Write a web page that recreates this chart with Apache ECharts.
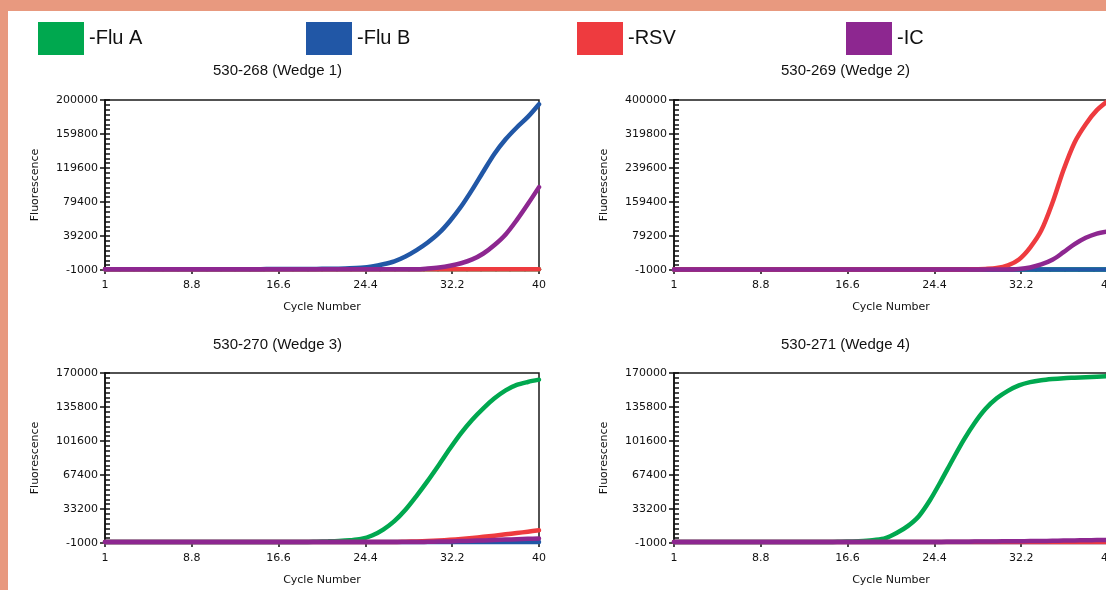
<!DOCTYPE html>
<html>
<head>
<meta charset="utf-8">
<script src="https://cdn.jsdelivr.net/npm/echarts@6.0.0/dist/echarts.min.js"></script>
<style>
html,body{margin:0;padding:0;width:1106px;height:590px;overflow:hidden;}
#bg{position:absolute;left:0;top:0;width:1106px;height:590px;background:#E8997F;}
#paper{position:absolute;left:8px;top:11px;width:1098px;height:579px;background:#ffffff;}
#c{position:absolute;left:0;top:0;width:1106px;height:590px;}
</style>
</head>
<body>
<div id="bg"></div>
<div id="paper"></div>
<div id="c"></div>
<script>
// ---------- data ----------
const seriesNames = ['Flu A', 'Flu B', 'RSV', 'IC'];
const cycles = [1,2,3,4,5,6,7,8,9,10,11,12,13,14,15,16,17,18,19,20,21,22,23,24,25,26,27,28,29,30,31,32,33,34,35,36,37,38,39,40];
const xTickLabels = [1, 8.8, 16.6, 24.4, 32.2, 40];
const yTicksW1 = [-1000, 39200, 79400, 119600, 159800, 200000];
const yTicksW2 = [-1000, 79200, 159400, 239600, 319800, 400000];
const yTicksW3 = [-1000, 33200, 67400, 101600, 135800, 170000];
const yTicksW4 = [-1000, 33200, 67400, 101600, 135800, 170000];
const panelTitles = ['530-268 (Wedge 1)', '530-269 (Wedge 2)', '530-270 (Wedge 3)', '530-271 (Wedge 4)'];

// Wedge 1
const w1FluA = [0,0,0,0,0,0,0,0,0,0,0,0,0,0,0,0,0,0,0,0,0,0,0,0,0,0,0,0,0,0,0,0,0,0,0,0,0,0,0,0];
const w1FluB = [0,0,0,0,0,0,0,0,0,0,0,0,0,0,0,100,150,200,250,300,400,600,1000,1800,3300,5800,9300,15000,22500,31500,42500,57000,74000,94000,115500,136500,153500,167500,180000,195000];
const w1RSV  = [0,0,0,0,0,0,0,0,0,0,0,0,0,0,0,0,0,0,0,0,0,0,0,0,0,0,0,0,0,0,0,0,0,0,0,0,0,0,0,0];
const w1IC   = [0,0,0,0,0,0,0,0,0,0,0,0,0,0,0,0,0,0,0,0,0,0,0,0,0,0,0,0,0,800,2000,4000,7000,11500,18500,28500,41000,58000,77000,97000];
// Wedge 2
const w2FluA = [0,0,0,0,0,0,0,0,0,0,0,0,0,0,0,0,0,0,0,0,0,0,0,0,0,0,0,0,0,0,0,0,0,0,0,0,0,0,0,0];
const w2FluB = [0,0,0,0,0,0,0,0,0,0,0,0,0,0,0,0,0,0,0,0,0,0,0,0,0,0,0,0,0,0,0,0,0,0,0,0,0,0,0,0];
const w2RSV  = [0,0,0,0,0,0,0,0,0,0,0,0,0,0,0,0,0,0,0,0,0,0,0,0,0,0,0,800,1500,3500,10000,24000,52000,92000,157000,235000,300000,343000,376000,398000];
const w2IC   = [0,0,0,0,0,0,0,0,0,0,0,0,0,0,0,0,0,0,0,0,0,0,0,0,0,0,0,0,0,0,0,1500,5000,12000,23000,41000,60000,75000,85000,90000];
// Wedge 3
const w3FluA = [0,0,0,0,0,0,0,0,0,0,0,0,0,0,0,0,0,0,0,300,600,1000,1700,3000,6500,12500,21000,32500,46500,61500,77500,94000,109500,123000,134500,144500,152500,158000,161000,163300];
const w3FluB = [0,0,0,0,0,0,0,0,0,0,0,0,0,0,0,0,0,0,0,0,0,0,0,0,0,0,0,0,0,0,0,0,0,0,0,0,0,0,0,0];
const w3RSV  = [0,0,0,0,0,0,0,0,0,0,0,0,0,0,0,0,0,0,0,0,0,0,0,0,0,0,0,300,600,1000,1500,2200,3000,4000,5200,6400,7700,9000,10400,11800];
const w3IC   = [0,0,0,0,0,0,0,0,0,0,0,0,0,0,0,0,0,0,0,0,0,0,0,0,0,0,0,0,0,200,400,600,900,1200,1600,2000,2400,2800,3200,3600];
// Wedge 4
const w4FluA = [0,0,0,0,0,0,0,0,0,0,0,0,0,0,0,300,600,1100,2000,3800,9000,16000,26000,42000,61500,82000,102000,119500,134000,144500,152000,157500,160800,162800,164000,164800,165300,165800,166300,166800];
const w4FluB = [0,0,0,0,0,0,0,0,0,0,0,0,0,0,0,0,0,0,0,0,0,0,0,0,0,0,0,0,0,0,0,0,0,0,0,0,0,0,0,0];
const w4RSV  = [0,0,0,0,0,0,0,0,0,0,0,0,0,0,0,0,0,0,0,0,0,0,0,0,0,0,0,0,0,0,0,0,0,0,0,0,0,0,0,0];
const w4IC   = [0,0,0,0,0,0,0,0,0,0,0,0,0,0,0,0,0,0,0,0,0,0,0,0,100,200,300,400,500,600,700,800,900,1000,1200,1400,1600,1800,1900,2000];

// ---------- styles / layout ----------
const seriesColors = ['#00A84F', '#2157A6', '#EE3B3F', '#8D2790'];
const legendLefts = [38, 306, 577, 846];
const panels = [
  { title: panelTitles[0], tx: 213, ty: 63,  gx: 105, gy: 100, yTicks: yTicksW1, data: [w1FluA, w1FluB, w1RSV, w1IC] },
  { title: panelTitles[1], tx: 781, ty: 63,  gx: 674, gy: 100, yTicks: yTicksW2, data: [w2FluA, w2FluB, w2RSV, w2IC] },
  { title: panelTitles[2], tx: 213, ty: 337, gx: 105, gy: 373, yTicks: yTicksW3, data: [w3FluA, w3FluB, w3RSV, w3IC] },
  { title: panelTitles[3], tx: 781, ty: 337, gx: 674, gy: 373, yTicks: yTicksW4, data: [w4FluA, w4FluB, w4RSV, w4IC] }
];

function subdivide(ticks, n) {
  const out = [];
  for (let i = 0; i < ticks.length - 1; i++) {
    for (let k = 0; k < n; k++) out.push(ticks[i] + (ticks[i + 1] - ticks[i]) * k / n);
  }
  out.push(ticks[ticks.length - 1]);
  return out;
}

const axisColor = '#111';
const tickFont = { fontFamily: 'DejaVu Sans', fontSize: 11, color: '#111' };
const xMinor = subdivide(xTickLabels, 6);

const xAxes = [], yAxes = [], series = [];
panels.forEach((p, i) => {
  xAxes.push({
    type: 'value', gridIndex: i, position: 'bottom', min: 1, max: 40,
    axisLine: { show: true, onZero: false, lineStyle: { color: axisColor, width: 1.5 } },
    axisTick: { show: true, customValues: xTickLabels, length: 4, lineStyle: { color: axisColor, width: 1.5 } },
    axisLabel: Object.assign({ customValues: xTickLabels, formatter: v => String(v), margin: 10 }, tickFont),
    splitLine: { show: false },
    name: 'Cycle Number', nameLocation: 'middle', nameGap: 32,
    nameTextStyle: { fontFamily: 'DejaVu Sans', fontSize: 11, color: '#111' }
  });
  xAxes.push({
    type: 'value', gridIndex: i, position: 'bottom', min: 1, max: 40,
    axisLine: { show: false },
    axisTick: { show: true, customValues: xMinor, length: 2, lineStyle: { color: axisColor, width: 1.5 } },
    axisLabel: { show: false },
    splitLine: { show: false }
  });
  const yMin = p.yTicks[0], yMax = p.yTicks[p.yTicks.length - 1];
  yAxes.push({
    type: 'value', gridIndex: i, position: 'left', min: yMin, max: yMax,
    axisLine: { show: true, onZero: false, lineStyle: { color: axisColor, width: 1.5 } },
    axisTick: { show: true, customValues: p.yTicks, length: 5, lineStyle: { color: axisColor, width: 1.5 } },
    axisLabel: Object.assign({ customValues: p.yTicks, formatter: v => String(v), margin: 7 }, tickFont),
    splitLine: { show: false },
    name: 'Fluorescence', nameLocation: 'middle', nameGap: 64, nameRotate: 90,
    nameTextStyle: { fontFamily: 'DejaVu Sans', fontSize: 11, color: '#111' }
  });
  yAxes.push({
    type: 'value', gridIndex: i, position: 'left', min: yMin, max: yMax,
    axisLine: { show: false },
    axisTick: { show: true, inside: true, customValues: subdivide(p.yTicks, 7), length: 5, lineStyle: { color: axisColor, width: 1.5 } },
    axisLabel: { show: false },
    splitLine: { show: false }
  });
  p.data.forEach((vals, s) => {
    series.push({
      name: seriesNames[s], type: 'line',
      xAxisIndex: 2 * i, yAxisIndex: 2 * i,
      data: cycles.map((c, k) => [c, vals[k]]),
      showSymbol: false, symbol: 'none',
      smooth: 0.3,
      color: seriesColors[s],
      itemStyle: { color: seriesColors[s] },
      lineStyle: { color: seriesColors[s], width: 4.5, cap: 'round', join: 'round' },
      emphasis: { disabled: true }, silent: true
    });
  });
});

const option = {
  animation: false,
  backgroundColor: 'transparent',
  title: panels.map(p => ({
    text: p.title, left: p.tx, top: p.ty, padding: 0,
    textStyle: { fontFamily: 'Liberation Sans', fontSize: 15, fontWeight: 'normal', color: '#111' }
  })),
  legend: seriesNames.map((n, i) => ({
    data: [n], left: legendLefts[i], top: 22, padding: 0,
    itemWidth: 46, itemHeight: 33, icon: 'rect', selectedMode: false,
    formatter: '-{name}',
    textStyle: { fontFamily: 'Liberation Sans', fontSize: 20, color: '#111' }
  })),
  grid: panels.map(p => ({
    left: p.gx, top: p.gy, width: 434, height: 170,
    outerBoundsMode: 'none', containLabel: false,
    show: true, borderColor: '#1a1a1a', borderWidth: 1.5, backgroundColor: 'transparent'
  })),
  xAxis: xAxes,
  yAxis: yAxes,
  series: series
};

const chart = echarts.init(document.getElementById('c'), null, { renderer: 'canvas' });
chart.setOption(option);
</script>
</body>
</html>
